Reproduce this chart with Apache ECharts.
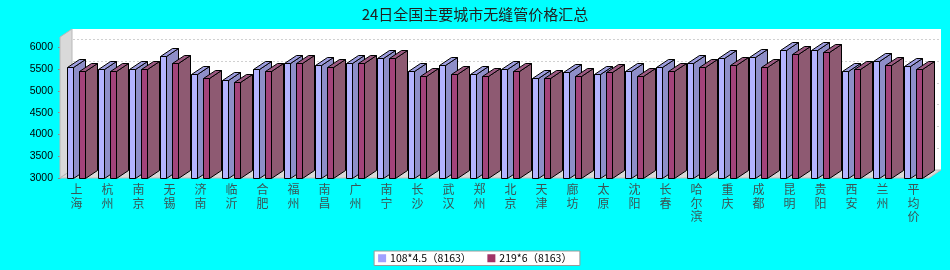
<!DOCTYPE html>
<html>
<head>
<meta charset="utf-8">
<script src="https://cdn.jsdelivr.net/npm/echarts@6/dist/echarts.min.js"></script>
<style>html,body{margin:0;padding:0;background:#00ffff;}#c{width:950px;height:270px;}</style>
</head>
<body>
<div id="c"></div>
<script>
const categories = ['上海','杭州','南京','无锡','济南','临沂','合肥','福州','南昌','广州','南宁','长沙','武汉','郑州','北京','天津','廊坊','太原','沈阳','长春','哈尔滨','重庆','成都','昆明','贵阳','西安','兰州','平均价'];
const series1Name = '108*4.5（8163）';
const series2Name = '219*6（8163）';
const series1 = [5550,5500,5500,5800,5380,5250,5500,5650,5600,5650,5750,5450,5600,5400,5500,5300,5430,5380,5450,5550,5650,5750,5790,5950,5950,5450,5700,5565];
const series2 = [5450,5450,5500,5650,5300,5200,5450,5650,5550,5650,5750,5350,5400,5350,5450,5300,5350,5430,5350,5450,5550,5600,5550,5850,5900,5500,5600,5500];
const yTicks = [3000,3500,4000,4500,5000,5500,6000];

const Y_MIN = 3000, Y_MAX = 6240, Y_STEP = 500, Y_GRID_TOP = 6000;
// layout
const G_LEFT = 61, G_TOP = 37, G_W = 868, G_H = 141;
const DX = 12, DY = 8;

const chart = echarts.init(document.getElementById('c'), null, {renderer:'canvas'});

function makeRender(offPx, colors) {
  return function (params, api) {
    const i = api.value(0), v = api.value(1);
    const top = api.coord([i, v]);
    const base = api.coord([i, Y_MIN]);
    const bw = api.size([1, 0])[0];
    const k = bw / 31;
    const x0 = Math.round(top[0] + offPx * k) + 0.5;
    const x1 = x0 + Math.round(6 * k);
    const yt = Math.round(top[1]) + 0.5, yb = Math.round(base[1]) + 0.5;
    const st = {stroke: '#000', lineWidth: 1, lineJoin: 'round'};
    return {
      type: 'group',
      children: [
        {type: 'polygon', shape: {points: [[x1, yt], [x1 + DX, yt - DY], [x1 + DX, yb - DY], [x1, yb]]},
          style: Object.assign({fill: colors.side}, st)},
        {type: 'polygon', shape: {points: [[x0, yt], [x0 + DX, yt - DY], [x1 + DX, yt - DY], [x1, yt]]},
          style: Object.assign({fill: colors.top}, st)},
        {type: 'rect', shape: {x: x0, y: yt, width: x1 - x0, height: yb - yt},
          style: Object.assign({fill: colors.front}, st)}
      ]
    };
  };
}

const c1 = {front: '#b3b3ff', side: '#8e8ec8', top: '#9d9ddf', legend: '#a0a0ff'};
const c2 = {front: '#a3437a', side: '#8e5a72', top: '#9c5a82', legend: '#a03366'};

const wallFill = '#d9d9d9', wallStroke = '#b8b8b8';
const gl = G_LEFT - 1, gr = G_LEFT + G_W, gt = G_TOP, gb = G_TOP + G_H;
// back grid spans 3000..6000 so the top gridline is 6000
const backTop = G_TOP - DY + (Y_MAX - Y_GRID_TOP) / (Y_MAX - Y_MIN) * G_H;
const backH = G_H * (Y_GRID_TOP - Y_MIN) / (Y_MAX - Y_MIN);

chart.setOption({
  backgroundColor: '#00ffff',
  animation: false,
  title: {
    text: '24日全国主要城市无缝管价格汇总',
    left: 'center', top: 2,
    textStyle: {fontFamily: 'Noto Sans CJK SC', fontSize: 15, fontWeight: 'normal', color: '#222'}
  },
  legend: {
    left: 'center', top: 251,
    data: [{name: series1Name, itemStyle: {color: c1.legend}}, {name: series2Name, itemStyle: {color: c2.legend}}],
    icon: 'rect', itemWidth: 8, itemHeight: 8, itemGap: 16,
    padding: [2, 8, 2, 4],
    backgroundColor: '#fff', borderColor: '#999', borderWidth: 1, borderRadius: 0,
    textStyle: {fontFamily: 'Noto Sans CJK SC', fontSize: 10.5, color: '#000', padding: [0, 0, 0, -1]}
  },
  grid: [
    {left: G_LEFT, top: G_TOP, width: G_W, height: G_H, show: false},
    {left: G_LEFT + DX, top: backTop, width: G_W, height: backH, show: false}
  ],
  xAxis: [
    {type: 'category', gridIndex: 0, data: categories,
      axisLine: {show: false}, axisTick: {show: false},
      axisLabel: {interval: 0, margin: 5, fontFamily: 'Noto Sans CJK SC', fontSize: 12, lineHeight: 13.5, color: '#3a5656',
        formatter: v => v.split('').join('\n')}},
    {type: 'category', gridIndex: 1, data: categories, show: false}
  ],
  yAxis: [
    {type: 'value', gridIndex: 0, min: Y_MIN, max: Y_MAX, interval: Y_STEP,
      axisLine: {show: false}, axisTick: {show: true, length: 3, lineStyle: {color: '#888'}},
      splitLine: {show: false},
      axisLabel: {showMaxLabel: false, margin: 8, fontFamily: 'Liberation Sans', fontSize: 10.5, color: '#000',
        formatter: v => (yTicks.indexOf(v) >= 0 ? String(v) : '')}},
    {type: 'value', gridIndex: 1, min: Y_MIN, max: Y_GRID_TOP, interval: Y_STEP,
      axisLine: {show: false}, axisTick: {show: false}, axisLabel: {show: false},
      splitLine: {show: true, lineStyle: {color: '#d0d0d0', type: [2, 2], width: 1}}}
  ],
  graphic: [
    {type: 'rect', z: 0, shape: {x: gl + DX, y: gt - DY, width: gr - gl, height: G_H}, style: {fill: '#fff'}},
    {type: 'polygon', z: 1, shape: {points: [[gl, gb], [gl, gt], [gl + DX, gt - DY], [gl + DX, gb - DY]]},
      style: {fill: wallFill, stroke: wallStroke, lineWidth: 1}},
    {type: 'polygon', z: 1, shape: {points: [[gl, gb], [gl + DX, gb - DY], [gr + DX, gb - DY], [gr, gb]]},
      style: {fill: wallFill, stroke: wallStroke, lineWidth: 1}}
  ],
  series: [
    {name: series1Name, type: 'custom', xAxisIndex: 0, yAxisIndex: 0, clip: false,
      itemStyle: {color: c1.legend},
      renderItem: makeRender(-9.2, c1), encode: {x: 0, y: 1},
      data: series1.map((v, i) => [i, v])},
    {name: series2Name, type: 'custom', xAxisIndex: 0, yAxisIndex: 0, clip: false,
      itemStyle: {color: c2.legend},
      renderItem: makeRender(2.8, c2), encode: {x: 0, y: 1},
      data: series2.map((v, i) => [i, v])}
  ]
});
</script>
</body>
</html>
